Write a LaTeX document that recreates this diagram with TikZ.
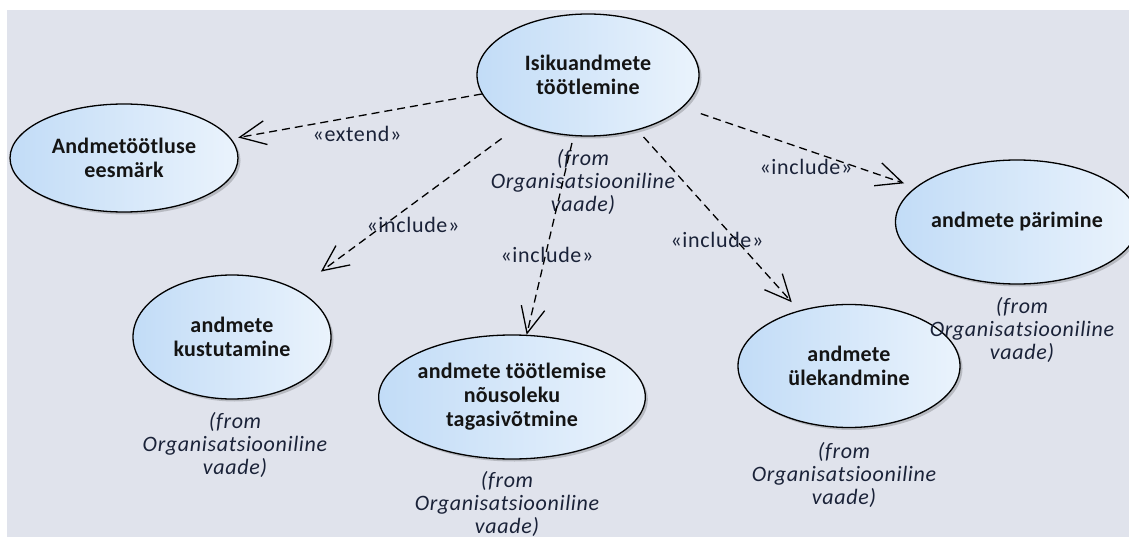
\documentclass[tikz,border=0pt]{standalone}
\usepackage{fontspec}
\setmainfont{Carlito}
\newfontfamily\ucfont[LetterSpace=1]{Carlito}
\newfontfamily\notefont[LetterSpace=3]{Carlito}
\usetikzlibrary{shapes.geometric,arrows.meta,shadows}
\definecolor{canvasbg}{HTML}{E0E3EC}
\definecolor{ucleft}{HTML}{C2DCF7}
\definecolor{ucright}{HTML}{EAF3FC}
\definecolor{labelink}{HTML}{1A2238}
\begin{document}
\begin{tikzpicture}[x=1pt,y=-1pt,
  uc/.style={ellipse, draw=black, line width=1.3pt, left color=ucleft, right color=ucright,
    inner sep=0pt, align=center, text=black!92,
    font=\ucfont\fontsize{22}{24}\selectfont\bfseries,
    drop shadow={shadow xshift=2.5pt, shadow yshift=-2.5pt, fill=black, opacity=0.18}},
  fromlbl/.style={align=center, inner sep=0pt, text=labelink,
    font=\notefont\fontsize{22}{23}\selectfont\itshape},
  stereo/.style={inner sep=0pt, text=labelink, font=\notefont\fontsize{22}{24}\selectfont},
  dep/.style={line width=1.3pt, dash pattern=on 8pt off 5pt,
    -{Straight Barb[length=26pt, width=24pt, line width=1.3pt]}}
]
\useasboundingbox (0,0) rectangle (1129,537);
\fill[white] (0,0) rectangle (1129,537);
\fill[canvasbg] (7,10) rectangle (1129,537);

% use cases
\node[uc, minimum width=222pt, minimum height=122pt] (proc) at (588,75) {Isikuandmete\\töötlemine};
\node[uc, minimum width=228pt, minimum height=108pt] (goal) at (124,158) {Andmetöötluse\\eesmärk};
\node[uc, minimum width=198pt, minimum height=124pt] (del) at (232,337) {andmete\\kustutamine};
\node[uc, minimum width=220pt, minimum height=124pt] (withdraw) at (512,397) {andmete töötlemise\\nõusoleku\\tagasivõtmine};
\node[uc, minimum width=222pt, minimum height=123pt] (transfer) at (849,366) {andmete\\ülekandmine};
\node[uc, minimum width=202pt, minimum height=124pt] (query) at (1017,222) {andmete pärimine};

% package notes
\node[fromlbl] (procFrom) at (583,182) {(from\\Organisatsiooniline\\vaade)};
\node[fromlbl] (delFrom) at (235,445) {(from\\Organisatsiooniline\\vaade)};
\node[fromlbl] (withdrawFrom) at (507,504) {(from\\Organisatsiooniline\\vaade)};
\node[fromlbl] (transferFrom) at (844,475) {(from\\Organisatsiooniline\\vaade)};
\node[fromlbl] (queryFrom) at (1022,330) {(from\\Organisatsiooniline\\vaade)};

% relationships
\draw[dep, shorten >=7pt] (proc) -- (goal);
\draw[dep, shorten <=24pt, shorten >=30pt] (proc) -- (del);
\draw[dep, shorten <=7pt] (proc) -- (withdraw);
\draw[dep, shorten <=9pt, shorten >=11pt] (proc) -- (transfer);
\draw[dep, shorten <=19pt, shorten >=12pt] (proc) -- (query);

% stereotypes
\node[stereo] (extendLbl) at (357,134) {«extend»};
\node[stereo] (incDelLbl) at (413,225) {«include»};
\node[stereo] (incWithdrawLbl) at (547,255) {«include»};
\node[stereo] (incTransferLbl) at (717,240) {«include»};
\node[stereo] (incQueryLbl) at (806,167) {«include»};
\end{tikzpicture}
\end{document}
